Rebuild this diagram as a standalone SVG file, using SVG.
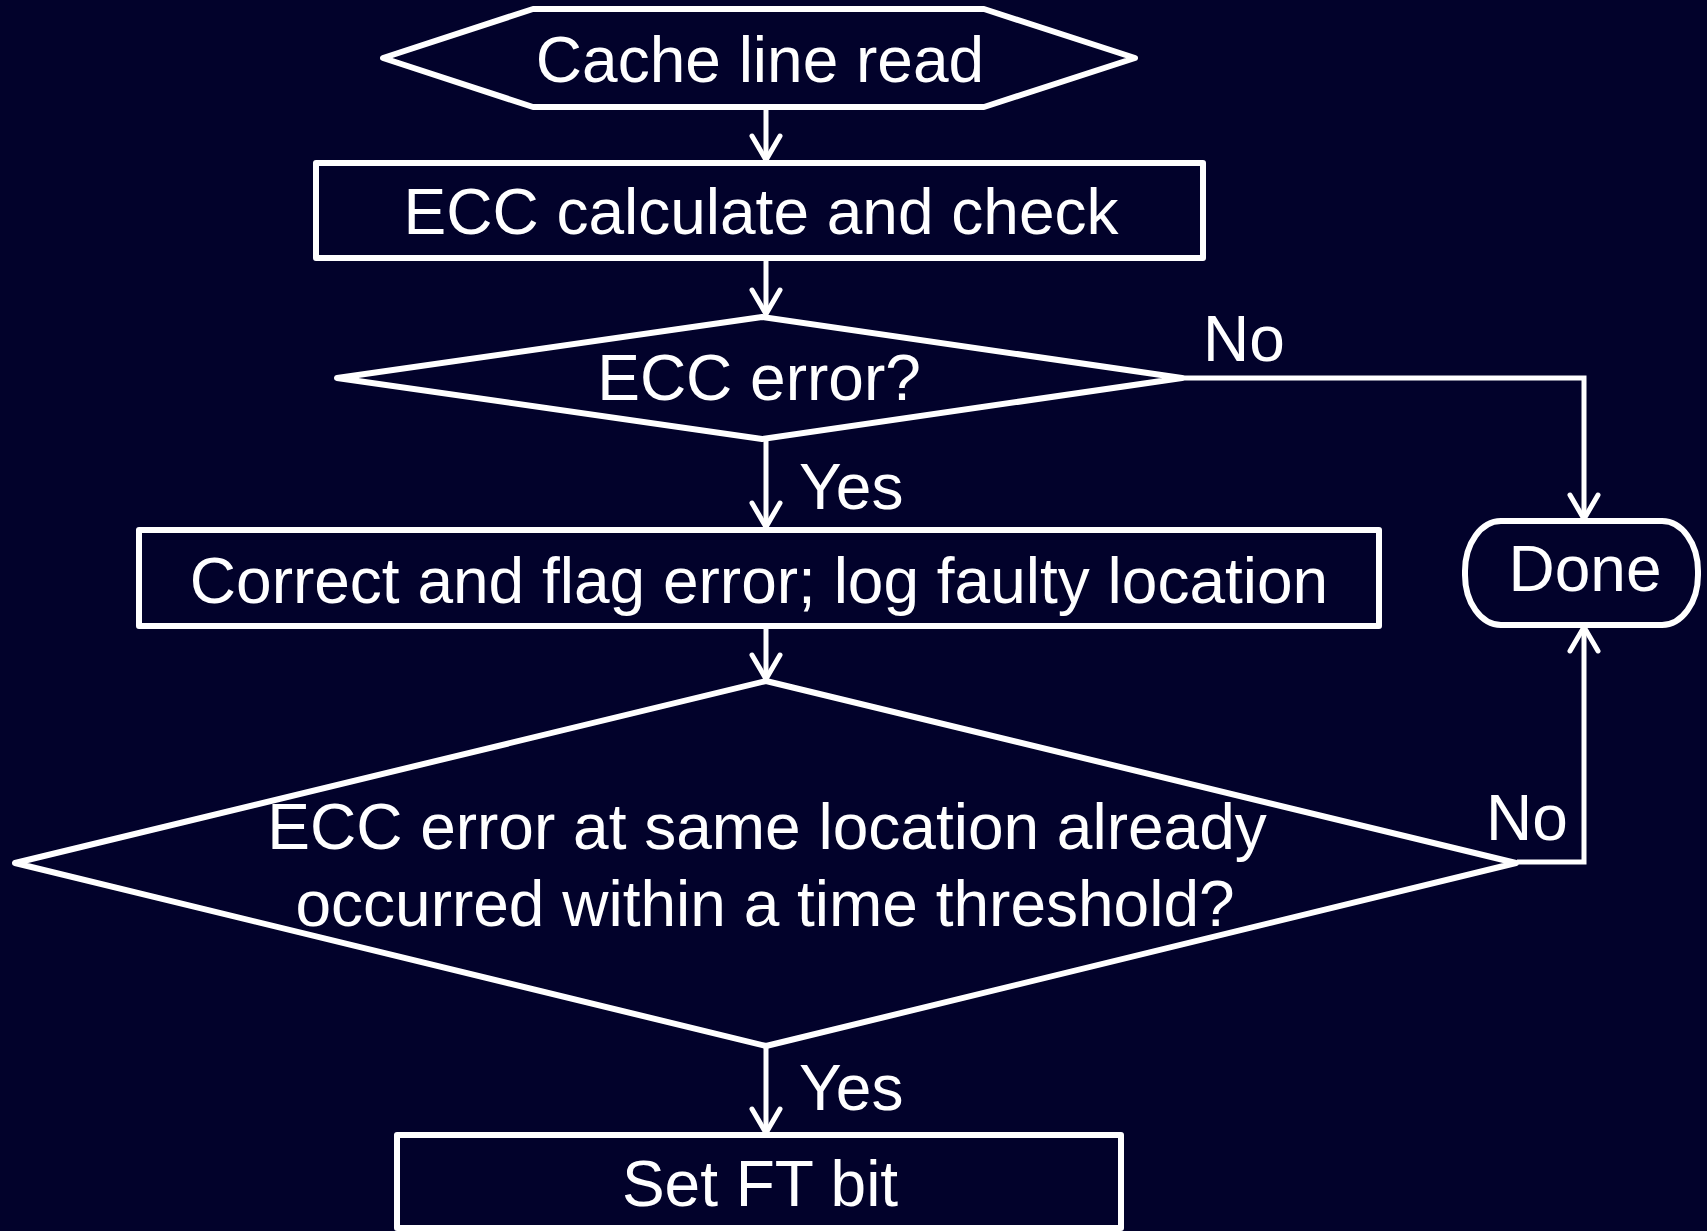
<svg xmlns="http://www.w3.org/2000/svg" width="1707" height="1231" viewBox="0 0 1707 1231">
<defs>
<style>
.shape{fill:none;stroke:#ffffff;stroke-width:6;stroke-linejoin:round}
.conn{fill:none;stroke:#ffffff;stroke-width:5;stroke-linejoin:miter}
.head{fill:none;stroke:#ffffff;stroke-width:5;stroke-linecap:round;stroke-linejoin:round}
.t{font-family:"Liberation Sans",Arial,sans-serif;font-size:64px;fill:#ffffff;text-anchor:middle}
.l{font-family:"Liberation Sans",Arial,sans-serif;font-size:64px;fill:#ffffff;text-anchor:start}
</style>
</defs>
<rect width="1707" height="1231" fill="#02022b"/>
<g id="connectors">
<path class="conn" d="M766,108 V161"/>
<path class="conn" d="M766,260 V314"/>
<path class="conn" d="M766,439 V527"/>
<path class="conn" d="M766,627 V679"/>
<path class="conn" d="M766,1046 V1133"/>
<path class="conn" d="M1181,378 H1584 V519"/>
<path class="conn" d="M1517,862 H1584 V627"/>
<path class="head" d="M752,136 L766,160 L780,136"/>
<path class="head" d="M752,290 L766,314 L780,290"/>
<path class="head" d="M752,503 L766,527 L780,503"/>
<path class="head" d="M752,655 L766,679 L780,655"/>
<path class="head" d="M752,1109 L766,1133 L780,1109"/>
<path class="head" d="M1570,495 L1584,519 L1598,495"/>
<path class="head" d="M1570,651 L1584,627 L1598,651"/>
</g>
<g id="n1"><polygon class="shape" points="383,58 533,9 984,9 1135,58 984,107 533,107"/><text class="t" x="760" y="82">Cache line read</text></g>
<g id="n2"><rect class="shape" x="316" y="163" width="887" height="95"/><text class="t" x="761" y="234">ECC calculate and check</text></g>
<g id="n3"><polygon class="shape" points="337,378 762,317 1182,378 762,439"/><text class="t" x="759" y="400">ECC error?</text></g>
<g id="n4"><rect class="shape" x="139" y="530" width="1240" height="96"/><text class="t" x="759" y="603">Correct and flag error; log faulty location</text></g>
<g id="n5"><rect class="shape" x="1465" y="521" width="233" height="104" rx="36" ry="50"/><text class="t" x="1585" y="591">Done</text></g>
<g id="n6"><polygon class="shape" points="15,863 766,681 1516,863 766,1046"/><text class="t" x="767" y="849">ECC error at same location already</text><text class="t" x="765" y="926">occurred within a time threshold?</text></g>
<g id="n7"><rect class="shape" x="397" y="1135" width="724" height="93"/><text class="t" x="760" y="1206">Set FT bit</text></g>
<g id="labels">
<text class="l" x="1203" y="361">No</text>
<text class="l" x="799" y="509">Yes</text>
<text class="l" x="1486" y="840">No</text>
<text class="l" x="799" y="1110">Yes</text>
</g>
</svg>
